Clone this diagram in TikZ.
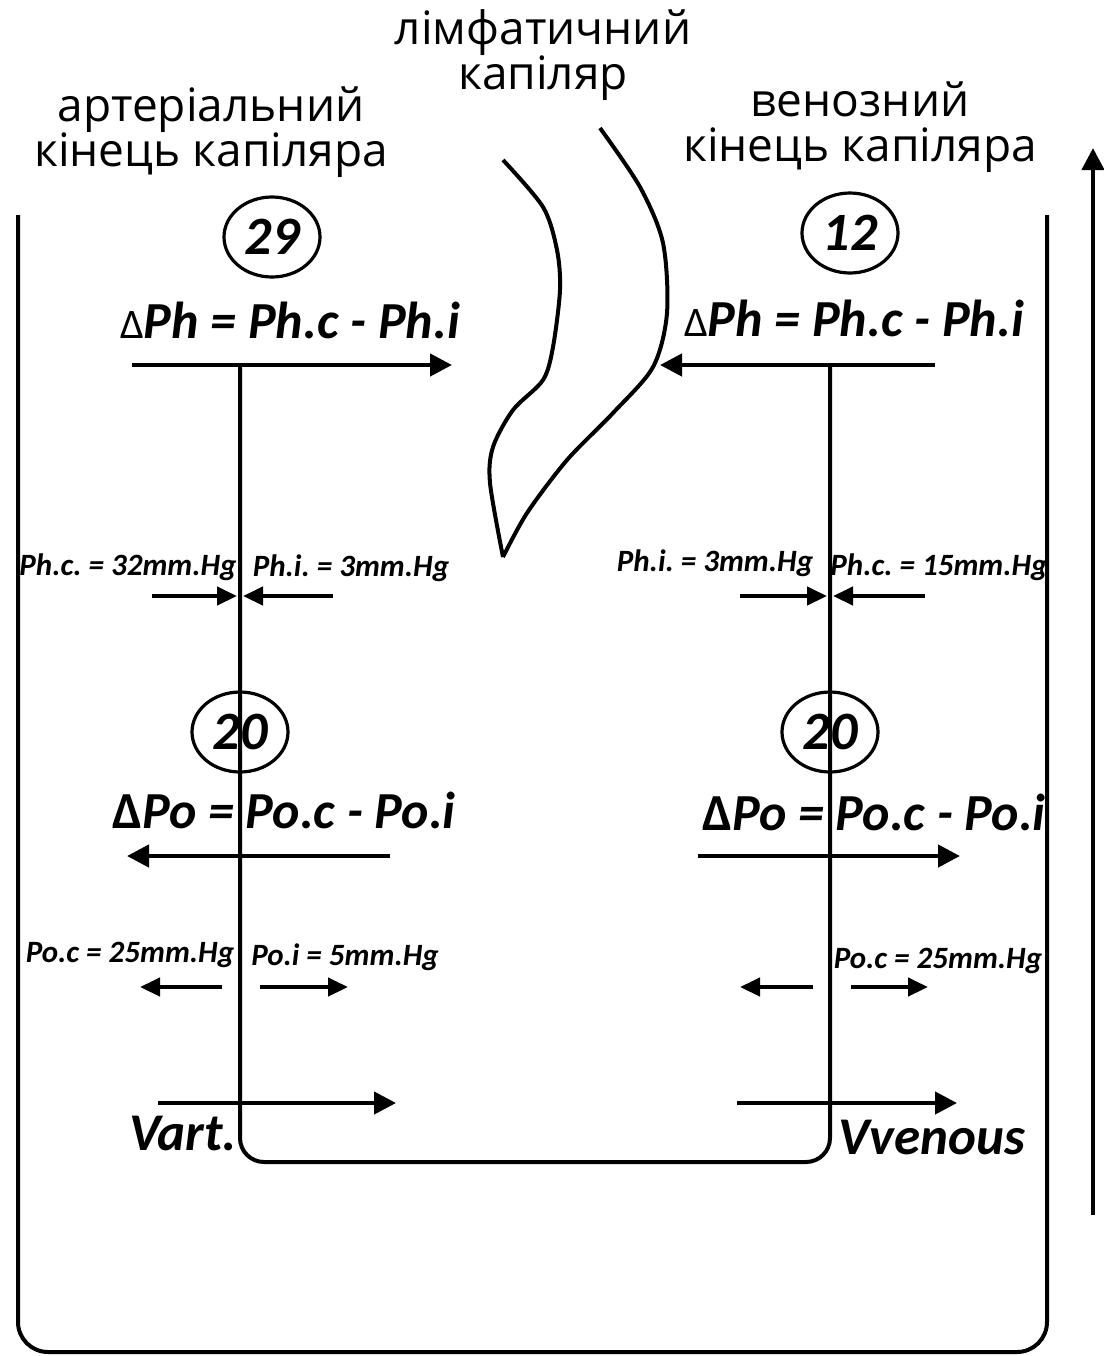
\documentclass[tikz,border=0pt]{standalone}
\usepackage{fontspec}
\setmainfont{Carlito}
\newfontfamily\headfont{Open Sans}
\usetikzlibrary{arrows.meta,shapes.geometric}
\frenchspacing

\tikzset{
  wall/.style={line width=2pt},
  flow/.style={line width=2.2pt,-{Triangle[length=11pt,width=11pt]}},
  push/.style={line width=2.2pt,-{Triangle[length=10pt,width=9pt]}},
  valve/.style={draw,ellipse,line width=1.6pt,minimum width=48pt,minimum height=40pt,
    inner sep=0pt,font=\fontsize{27}{30}\selectfont\bfseries\itshape},
  formula/.style={font=\fontsize{26}{30}\selectfont\bfseries\itshape},
  value/.style={font=\fontsize{15.5}{18}\selectfont\bfseries\itshape},
  speed/.style={font=\fontsize{26.5}{30}\selectfont\bfseries\itshape},
  heading/.style={align=center,font=\headfont\fontsize{23}{22.5}\selectfont}
}

\begin{document}
\begin{tikzpicture}[x=0.5pt,y=-0.5pt]
  \useasboundingbox (0,0) rectangle (1104,1356);
  % headings
  \node[heading] (lymph) at (543,55) {лімфатичний\\капіляр};
  \node[heading] (art) at (211,132) {артеріальний\\кінець капіляра};
  \node[heading] (ven) at (860,127) {венозний\\кінець капіляра};
  % outer and inner walls
  \draw[wall,rounded corners=15pt] (18,215) -- (18,1352) -- (1047,1352) -- (1047,215);
  \draw[wall,rounded corners=12pt] (240,365) -- (240,1162) -- (830,1162) -- (830,365);
  \draw[flow] (1093,1215) -- (1093,148);
  % lymphatic capillary
  \draw[wall] plot[smooth] coordinates {(503,160) (543,207) (557,250) (560,290)
    (553,347) (543,380) (513,410) (493,447) (490,483) (503,557)};
  \draw[wall] plot[smooth] coordinates {(600,128) (640,187) (663,243) (667,313)
    (653,367) (613,413) (567,460) (527,513) (503,557)};
  % hydrostatic pressure
  \node[valve] (hArt) at (272,237) {29};
  \node[valve] (hVen) at (850,233) {12};
  \node[formula] (dPhArt) at (290,320) {{\upshape\mdseries\fontsize{21}{24}\selectfont Δ}Ph = Ph.c - Ph.i};
  \node[formula] (dPhVen) at (854,318) {{\upshape\mdseries\fontsize{21}{24}\selectfont Δ}Ph = Ph.c - Ph.i};
  \draw[flow] (132,365) -- (452,365);
  \draw[flow] (935,365) -- (660,365);
  \node[value] (phcArt) at (128,567) {Ph.c. = 32mm.Hg};
  \node[value] (phiArt) at (351,568) {Ph.i. = 3mm.Hg};
  \node[value] (phiVen) at (715,563) {Ph.i. = 3mm.Hg};
  \node[value] (phcVen) at (939,567) {Ph.c. = 15mm.Hg};
  \draw[push] (152,596) -- (237,596);
  \draw[push] (333,596) -- (243,596);
  \draw[push] (740,596) -- (827,596);
  \draw[push] (925,596) -- (833,596);
  % oncotic pressure
  \node[valve] (oArt) at (240,732) {20};
  \node[valve] (oVen) at (830,732) {20};
  \node[formula] (dPoArt) at (284,810) {{\upshape Δ}Po = Po.c - Po.i};
  \node[formula] (dPoVen) at (874,812) {{\upshape Δ}Po = Po.c - Po.i};
  \draw[flow] (390,856) -- (127,856);
  \draw[flow] (698,856) -- (960,856);
  \node[value] (pocArt) at (130,955) {Po.c = 25mm.Hg};
  \node[value] (poiArt) at (345,957) {Po.i = 5mm.Hg};
  \node[value] (pocVen) at (938,961) {Po.c = 25mm.Hg};
  \draw[push] (222,987) -- (140,987);
  \draw[push] (260,987) -- (348,987);
  \draw[push] (813,987) -- (740,987);
  \draw[push] (851,987) -- (928,987);
  % flow speed
  \draw[flow] (158,1103) -- (396,1103);
  \draw[flow] (737,1103) -- (957,1103);
  \node[speed] (vArt) at (183,1133) {Vart.};
  \node[speed] (vVen) at (932,1137) {Vvenous};
\end{tikzpicture}
\end{document}
